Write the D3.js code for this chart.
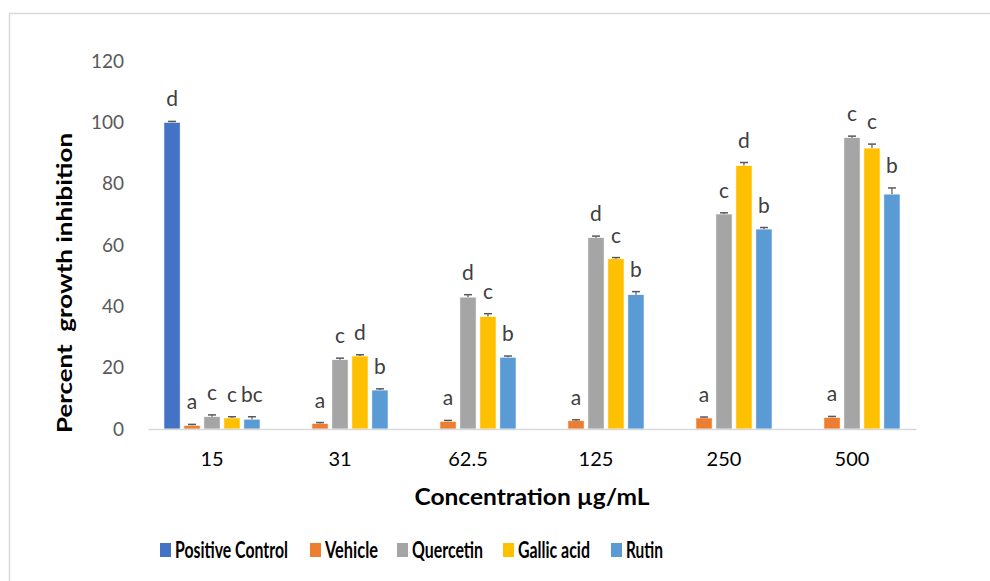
<!DOCTYPE html>
<html>
<head>
<meta charset="utf-8">
<script src="https://cdn.jsdelivr.net/npm/d3@7"></script>
<style>
  body { margin: 0; background: #fff; }
  text { font-family: Lato, "Open Sans", sans-serif; }
</style>
</head>
<body>
<script>
// concentrations on the x axis
var concentrations = ["15", "31", "62.5", "125", "250", "500"];
var seriesNames = ["Positive Control", "Vehicle", "Quercetin", "Gallic acid", "Rutin"];
var seriesColors = ["#4472C4", "#ED7D31", "#A5A5A5", "#FFC000", "#5B9BD5"];
var yTicks = [0, 20, 40, 60, 80, 100, 120];

// values per series (null = no bar)
var positiveControl = [100, null, null, null, null, null];
var vehicle   = [1.2, 1.8, 2.5, 2.7, 3.6, 3.8];
var quercetin = [4.0, 22.6, 43.0, 62.4, 70.1, 95.0];
var gallic    = [3.6, 23.8, 36.7, 55.5, 85.9, 91.6];
var rutin     = [3.2, 12.7, 23.4, 43.8, 65.2, 76.6];

// standard errors
var pcErr   = [0.3, null, null, null, null, null];
var vehErr  = [0.3, 0.3, 0.3, 0.3, 0.3, 0.3];
var querErr = [0.6, 0.5, 0.8, 0.5, 0.4, 0.5];
var galErr  = [0.4, 0.4, 0.9, 0.4, 1.0, 1.3];
var rutErr  = [0.8, 0.4, 0.4, 1.0, 0.5, 2.0];

// significance letters
var pcLetters   = ["d", "", "", "", "", ""];
var vehLetters  = ["a", "a", "a", "a", "a", "a"];
var querLetters = ["c", "c", "d", "d", "c", "c"];
var galLetters  = ["c", "d", "c", "c", "d", "c"];
var rutLetters  = ["bc", "b", "b", "b", "b", "b"];

var allValues = [positiveControl, vehicle, quercetin, gallic, rutin];
var allErrs = [pcErr, vehErr, querErr, galErr, rutErr];
var allLetters = [pcLetters, vehLetters, querLetters, galLetters, rutLetters];

var bars = [];
concentrations.forEach(function(c, i) {
  seriesNames.forEach(function(s, j) {
    if (allValues[j][i] != null) {
      bars.push({cat: c, series: s, color: seriesColors[j], value: allValues[j][i],
                 err: allErrs[j][i], letter: allLetters[j][i]});
    }
  });
});

var width = 990, height = 581;
var svg = d3.select("body").append("svg")
  .attr("width", width)
  .attr("height", height);

// chart frame
svg.append("rect")
  .attr("x", 9.5).attr("y", 13.5)
  .attr("width", 1000).attr("height", 600)
  .attr("fill", "none")
  .attr("stroke", "#D9D9D9")
  .attr("stroke-width", 1.5);

var plotLeft = 148, plotRight = 916, plotTop = 61, plotBottom = 429;

var y = d3.scaleLinear().domain([0, 120]).range([plotBottom, plotTop]);
var x0 = d3.scaleBand().domain(concentrations).range([plotLeft, plotRight])
  .paddingInner(0.24).paddingOuter(0.12);
var x1 = d3.scaleBand().domain(seriesNames).range([0, x0.bandwidth()])
  .paddingInner(0.19).paddingOuter(0.03);

// y axis labels
var yAxis = d3.axisLeft(y).tickValues(yTicks).tickSize(0).tickPadding(0);
var yg = svg.append("g").attr("transform", "translate(" + 124 + ",0)").call(yAxis);
yg.select(".domain").remove();
yg.selectAll("text")
  .style("font-family", "Lato, 'Open Sans', sans-serif")
  .style("font-size", "19px")
  .attr("fill", "#595959");

// bars
svg.selectAll("rect.bar")
  .data(bars)
  .enter()
  .append("rect")
  .attr("class", "bar")
  .attr("x", function(d) { return x0(d.cat) + x1(d.series); })
  .attr("width", x1.bandwidth())
  .attr("y", function(d) { return y(d.value); })
  .attr("height", function(d) { return y(0) - y(d.value); })
  .attr("fill", function(d) { return d.color; })
  .attr("stroke", "#fff")
  .attr("stroke-width", 0.6);

// error bars
var eb = svg.selectAll("g.err").data(bars).enter().append("g").attr("class", "err");
eb.append("line")
  .attr("x1", function(d) { return x0(d.cat) + x1(d.series) + x1.bandwidth() / 2; })
  .attr("x2", function(d) { return x0(d.cat) + x1(d.series) + x1.bandwidth() / 2; })
  .attr("y1", function(d) { return y(d.value); })
  .attr("y2", function(d) { return y(d.value + d.err); })
  .attr("stroke", "#595959").attr("stroke-width", 1.2);
eb.append("line")
  .attr("x1", function(d) { return x0(d.cat) + x1(d.series) + x1.bandwidth() / 2 - 4; })
  .attr("x2", function(d) { return x0(d.cat) + x1(d.series) + x1.bandwidth() / 2 + 4; })
  .attr("y1", function(d) { return y(d.value + d.err); })
  .attr("y2", function(d) { return y(d.value + d.err); })
  .attr("stroke", "#595959").attr("stroke-width", 1.5);

// letters
svg.selectAll("text.letter")
  .data(bars)
  .enter()
  .append("text")
  .attr("class", "letter")
  .attr("x", function(d) { return x0(d.cat) + x1(d.series) + x1.bandwidth() / 2; })
  .attr("y", function(d) { return y(d.value + d.err) - 15; })
  .attr("text-anchor", "middle")
  .style("font-size", "21px")
  .attr("fill", "#404040")
  .text(function(d) { return d.letter; });

// x axis
var xAxis = d3.axisBottom(x0).tickSize(0).tickPadding(23);
var xg = svg.append("g").attr("transform", "translate(0," + plotBottom + ")").call(xAxis);
xg.select(".domain").attr("stroke", "#D9D9D9").attr("stroke-width", 1.6);
xg.selectAll("text")
  .style("font-family", "Lato, 'Open Sans', sans-serif")
  .style("font-size", "20px")
  .attr("fill", "#000");

// axis titles
svg.append("text")
  .attr("x", (plotLeft + plotRight) / 2)
  .attr("y", 505)
  .attr("text-anchor", "middle")
  .style("font-size", "22px")
  .style("font-weight", "bold")
  .attr("fill", "#000")
  .attr("textLength", 235)
  .attr("lengthAdjust", "spacingAndGlyphs")
  .text("Concentration µg/mL");

svg.append("text")
  .attr("transform", "translate(72," + 283 + ") rotate(-90)")
  .attr("text-anchor", "middle")
  .style("font-size", "21px")
  .style("font-weight", "bold")
  .attr("fill", "#000")
  .attr("xml:space", "preserve")
  .attr("textLength", 300)
  .attr("lengthAdjust", "spacingAndGlyphs")
  .text("Percent  growth inhibition");

// legend (condensed text, squeezed horizontally to fit)
var legendX = [160, 310, 397, 503, 611];
var legendW = [113, 53, 71, 72, 37];
var lg = svg.selectAll("g.legend")
  .data(seriesNames)
  .enter()
  .append("g")
  .attr("class", "legend")
  .attr("transform", function(d, i) { return "translate(" + legendX[i] + ",543)"; });
lg.append("rect")
  .attr("width", 11).attr("height", 14)
  .attr("fill", function(d, i) { return seriesColors[i]; });
lg.append("text")
  .style("font-size", "22px")
  .style("font-weight", "bold")
  .attr("fill", "#000")
  .text(function(d) { return d; })
  .attr("transform", function(d, i) {
    var w = this.getComputedTextLength();
    return "translate(15,15) scale(" + (legendW[i] / w) + ",1)";
  });
</script>
</body>
</html>
